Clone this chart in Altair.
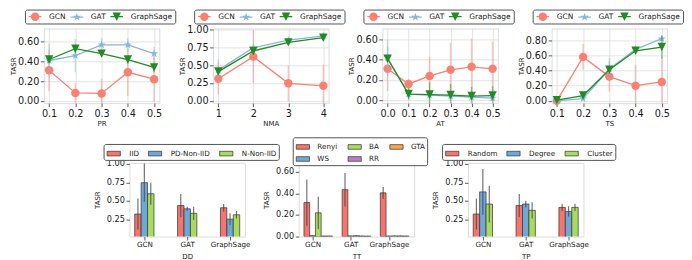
import altair as alt
import pandas as pd

# ---------------- shared categories / styles ----------------
MODELS = ["GCN", "GAT", "GraphSage"]
MODEL_COLORS = ["#fa8072", "#87b5de", "#228b22"]
STAR = ("M0,-1L0.2245,-0.309L0.9511,-0.309L0.3633,0.118L0.5878,0.809L0,0.382"
        "L-0.5878,0.809L-0.3633,0.118L-0.9511,-0.309L-0.2245,-0.309Z")
TRI_DOWN = "M-1,-1L1,-1L0,1Z"
CIRCLE = "M1,0A1,1 0 1,1 -1,0A1,1 0 1,1 1,0Z"
HANDLE = "M-1.5,-0.15L1.5,-0.15L1.5,0.15L-1.5,0.15Z"
MODEL_MARKERS = ["circle", STAR, TRI_DOWN]
LEGEND_SHAPES = [HANDLE + CIRCLE, HANDLE + STAR, HANDLE + TRI_DOWN]
RECT = "M-1,-0.35L1,-0.35L1,0.35L-1,0.35Z"

RED, BLUE, GREEN, PURPLE, ORANGE = "#f4756b", "#6fa8d6", "#a8db5e", "#c27bc6", "#f7a64b"

# ---------------- line-chart data ----------------
pr_x = [0.1, 0.2, 0.3, 0.4, 0.5]
pr_gcn = [0.31, 0.08, 0.075, 0.29, 0.22]
pr_gcn_err = [0.21, 0.10, 0.15, 0.24, 0.23]
pr_gat = [0.41, 0.46, 0.57, 0.57, 0.48]
pr_gat_err = [0.17, 0.17, 0.07, 0.07, 0.07]
pr_sage = [0.42, 0.53, 0.48, 0.42, 0.34]
pr_sage_err = [0.03, 0.04, 0.03, 0.04, 0.05]

nma_x = [1, 2, 3, 4]
nma_gcn = [0.31, 0.62, 0.245, 0.21]
nma_gcn_err = [0.22, 0.37, 0.25, 0.30]
nma_gat = [0.43, 0.745, 0.85, 0.91]
nma_gat_err = [0.15, 0.03, 0.02, 0.02]
nma_sage = [0.41, 0.70, 0.82, 0.885]
nma_sage_err = [0.04, 0.03, 0.02, 0.02]

at_x = [0.0, 0.1, 0.2, 0.3, 0.4, 0.5]
at_gcn = [0.31, 0.16, 0.24, 0.30, 0.33, 0.31]
at_gcn_err = [0.22, 0.05, 0.19, 0.27, 0.28, 0.27]
at_gat = [0.42, 0.06, 0.05, 0.04, 0.03, 0.02]
at_gat_err = [0.18, 0.05, 0.05, 0.04, 0.03, 0.03]
at_sage = [0.41, 0.06, 0.055, 0.05, 0.04, 0.045]
at_sage_err = [0.03, 0.06, 0.12, 0.11, 0.09, 0.09]

ts_x = [0.1, 0.2, 0.3, 0.4, 0.5]
ts_gcn = [0.0, 0.58, 0.32, 0.20, 0.25]
ts_gcn_err = [0.0, 0.17, 0.20, 0.27, 0.33]
ts_gat = [0.0, 0.03, 0.42, 0.68, 0.82]
ts_gat_err = [0.0, 0.02, 0.15, 0.03, 0.03]
ts_sage = [0.01, 0.07, 0.41, 0.66, 0.71]
ts_sage_err = [0.01, 0.03, 0.03, 0.03, 0.15]

# ---------------- bar-chart data ----------------
dd_series = ["IID", "PD-Non-IID", "N-Non-IID"]
dd_vals = [[0.32, 0.435, 0.405], [0.745, 0.39, 0.25], [0.595, 0.33, 0.31]]
dd_errs = [[0.21, 0.155, 0.05], [0.26, 0.03, 0.08], [0.15, 0.09, 0.05]]

tt_series = ["Renyi", "WS", "BA", "RR", "GTA"]
tt_legend_order = ["Renyi", "BA", "GTA", "WS", "RR"]
tt_vals = [[0.315, 0.435, 0.405], [0.008, 0.006, 0.005], [0.22, 0.008, 0.006],
           [0.005, 0.005, 0.006], [0.005, 0.004, 0.005]]
tt_errs = [[0.215, 0.155, 0.055], [0.005, 0.004, 0.003], [0.15, 0.005, 0.003],
           [0.003, 0.003, 0.003], [0.003, 0.003, 0.003]]

tp_series = ["Random", "Degree", "Cluster"]
tp_vals = [[0.32, 0.435, 0.41], [0.62, 0.455, 0.355], [0.455, 0.37, 0.41]]
tp_errs = [[0.21, 0.155, 0.05], [0.31, 0.045, 0.07], [0.25, 0.11, 0.05]]

TXT = "#1a1a1a"
TOP_AX = dict(labelFontSize=9.7, titleFontSize=7, titleFontWeight="normal",
              tickSize=3.5, labelPadding=1.5, domain=False, grid=True,
              gridColor="#dcdcdc", gridWidth=0.8, tickColor="#333", tickWidth=0.8,
              labelColor=TXT, titleColor=TXT, labelFlush=False, labelOverlap=False)
BOT_X = dict(labelFontSize=7.2, titleFontSize=7, titleFontWeight="normal",
             tickSize=3.5, labelPadding=1, titlePadding=4, domain=False, grid=False,
             tickColor="#333", tickWidth=0.8, labelColor=TXT, titleColor=TXT, labelAngle=0)
BOT_Y = dict(labelFontSize=8.2, titleFontSize=7, titleFontWeight="normal",
             tickSize=3.5, labelPadding=1.5, titlePadding=6, domain=False, grid=False,
             tickColor="#333", tickWidth=0.8, labelColor=TXT, titleColor=TXT,
             labelOverlap=False)

INDEP = dict(color="independent", shape="independent", xOffset="independent")
INDEP_LEG = dict(color="independent", shape="independent")


def line_panel(xs, means, errs, xtitle, xdom, xticks, xfmt, ydom, yticks):
    rows = []
    for m, mv, ev in zip(MODELS, means, errs):
        for x, v, e in zip(xs, mv, ev):
            rows.append({"x": x, "v": v, "lo": v - e, "hi": v + e, "model": m})
    df = pd.DataFrame(rows)
    xsc = alt.Scale(domain=xdom, nice=False, zero=False)
    ysc = alt.Scale(domain=ydom, nice=False, zero=False)
    xax = alt.Axis(title=xtitle, values=xticks, format=xfmt, titlePadding=2, **TOP_AX)
    yax = alt.Axis(title="TASR", values=yticks, format=".2f", titlePadding=1, **TOP_AX)
    cs = alt.Scale(domain=MODELS, range=MODEL_COLORS)
    ls = alt.Scale(domain=MODELS, range=LEGEND_SHAPES)
    leg = alt.Legend(title=None, orient="none", legendX=-19, legendY=-19,
                     direction="horizontal", padding=2.5, symbolOffset=3.2,
                     labelOffset=9.5, columnPadding=3, labelFontSize=7.5,
                     symbolSize=72, labelColor=TXT, fillColor="white",
                     strokeColor="#555", cornerRadius=2, symbolStrokeWidth=0,
                     symbolOpacity=1)
    layers = []
    for m, c, mk in zip(MODELS, MODEL_COLORS, MODEL_MARKERS):
        sub = alt.Chart(df).transform_filter(alt.datum.model == m)
        layers.append(sub.mark_rule(color=c, strokeWidth=1.5, opacity=0.45, clip=True).encode(
            x=alt.X("x:Q", scale=xsc, axis=xax),
            y=alt.Y("lo:Q", scale=ysc, axis=yax),
            y2="hi:Q",
        ))
        layers.append(sub.mark_line(color=c, strokeWidth=1.3).encode(
            x=alt.X("x:Q", scale=xsc, axis=xax),
            y=alt.Y("v:Q", scale=ysc, axis=yax),
        ))
        layers.append(sub.mark_point(filled=True, size=72, opacity=1, color=c, shape=mk).encode(
            x=alt.X("x:Q", scale=xsc, axis=xax),
            y=alt.Y("v:Q", scale=ysc, axis=yax),
        ))
    # invisible layer that only carries the legend (line handle + marker symbols)
    layers.append(alt.Chart(df).mark_point(filled=True, opacity=0, size=72).encode(
        x=alt.X("x:Q", scale=xsc, axis=xax),
        y=alt.Y("v:Q", scale=ysc, axis=yax),
        color=alt.Color("model:N", scale=cs, legend=leg),
        shape=alt.Shape("model:N", scale=ls, legend=leg),
    ))
    return alt.layer(*layers).properties(width=116, height=75)


def bar_panel(series, vals, errs, colors, legend_order, xtitle, ydom, yticks,
              pad_in, pad_out, tick_off, leg):
    rows = []
    for s, sv, se in zip(series, vals, errs):
        for g, v, e in zip(MODELS, sv, se):
            rows.append({"model": g, "series": s, "v": v, "lo": v - e, "hi": v + e})
    df = pd.DataFrame(rows)
    cmap = dict(zip(series, colors))
    cs = alt.Scale(domain=legend_order, range=[cmap[s] for s in legend_order])
    xenc = alt.X("model:N", sort=MODELS,
                 scale=alt.Scale(paddingInner=pad_in, paddingOuter=pad_out),
                 axis=alt.Axis(title=xtitle, tickOffset=tick_off, **BOT_X))
    xoff = alt.XOffset("series:N", sort=series,
                       scale=alt.Scale(paddingInner=0, paddingOuter=0))
    ysc = alt.Scale(domain=ydom, nice=False, zero=False)
    yax = alt.Axis(title="TASR", values=yticks, format=".2f", **BOT_Y)
    bars = alt.Chart(df).mark_bar(stroke="#333", strokeWidth=0.7, clip=True).encode(
        x=xenc, xOffset=xoff,
        y=alt.Y("v:Q", scale=ysc, axis=yax), y2=alt.Y2(datum=0),
        color=alt.Color("series:N", scale=cs, legend=leg),
    )
    eb = alt.Chart(df).mark_rule(color="#444", strokeWidth=1.2, opacity=0.75, clip=True).encode(
        x=xenc, xOffset=xoff,
        y=alt.Y("lo:Q", scale=ysc, axis=yax), y2="hi:Q",
    )
    return alt.layer(bars, eb).properties(width=116, height=74)


def bar_legend(x, y, cols=None, col_pad=7.5, row_pad=0.5, label_off=8.2):
    kw = dict(title=None, orient="none", legendX=x, legendY=y, direction="horizontal",
              padding=1.8, fillColor="white", strokeColor="#555", cornerRadius=2,
              symbolType=RECT, symbolSize=177, symbolOffset=0.9, labelOffset=label_off,
              columnPadding=col_pad, rowPadding=row_pad, labelFontSize=7.2,
              labelColor=TXT, symbolStrokeColor="#333", symbolStrokeWidth=0.7)
    if cols:
        kw["columns"] = cols
    return alt.Legend(**kw)


p1 = line_panel(pr_x, [pr_gcn, pr_gat, pr_sage], [pr_gcn_err, pr_gat_err, pr_sage_err],
                "PR", [0.08, 0.52], pr_x, ".1f", [-0.024, 0.736], [0, 0.2, 0.4, 0.6])
p2 = line_panel(nma_x, [nma_gcn, nma_gat, nma_sage], [nma_gcn_err, nma_gat_err, nma_sage_err],
                "NMA", [0.85, 4.15], nma_x, "d", [-0.033, 1.015], [0, 0.25, 0.5, 0.75, 1.0])
p3 = line_panel(at_x, [at_gcn, at_gat, at_sage], [at_gcn_err, at_gat_err, at_sage_err],
                "AT", [-0.025, 0.525], at_x, ".1f", [-0.03, 0.71], [0, 0.2, 0.4, 0.6])
p4 = line_panel(ts_x, [ts_gcn, ts_gat, ts_sage], [ts_gcn_err, ts_gat_err, ts_sage_err],
                "TS", [0.08, 0.52], ts_x, ".1f", [-0.03, 0.955], [0, 0.2, 0.4, 0.6, 0.8])

b1 = bar_panel(dd_series, dd_vals, dd_errs, [RED, BLUE, GREEN], dd_series, "DD",
               [0.014, 1.014], [0.25, 0.5, 0.75, 1.0], 0.55, 0.1225, 0,
               bar_legend(-26, -19))
b2 = bar_panel(tt_series, tt_vals, tt_errs, [RED, BLUE, GREEN, PURPLE, ORANGE],
               tt_legend_order, "TT", [0, 0.683], [0, 0.2, 0.4, 0.6], 0.25, 0.1375, -5.75,
               bar_legend(-6, -25.7, cols=3, col_pad=9, label_off=7))
b3 = bar_panel(tp_series, tp_vals, tp_errs, [RED, BLUE, GREEN], tp_series, "TP",
               [0.014, 1.014], [0.25, 0.5, 0.75, 1.0], 0.55, 0.1225, 0,
               bar_legend(-26, -19))

spacer = alt.Chart(pd.DataFrame({"s": [0]})).mark_point(opacity=0).encode(
    x=alt.value(0), y=alt.value(0)
).properties(width=31.3, height=74, view=alt.ViewBackground(stroke="white", fill="white"))

top_row = alt.concat(p1, p2, p3, p4, columns=4, align="each", bounds="flush",
                     spacing=54).resolve_scale(**INDEP).resolve_legend(**INDEP_LEG)
bot_row = alt.concat(spacer, b1, b2, b3, columns=4, align="each", bounds="flush",
                     spacing=54).resolve_scale(**INDEP).resolve_legend(**INDEP_LEG)

chart = alt.concat(top_row, bot_row, columns=1, align="each", spacing=8)
chart = chart.resolve_scale(**INDEP).resolve_legend(**INDEP_LEG)
chart = chart.properties(padding=0).configure_view(stroke="#333", strokeWidth=0.8).configure(
    font="DejaVu Sans")

chart.save("out.html", embed_options={"renderer": "svg", "actions": False})
